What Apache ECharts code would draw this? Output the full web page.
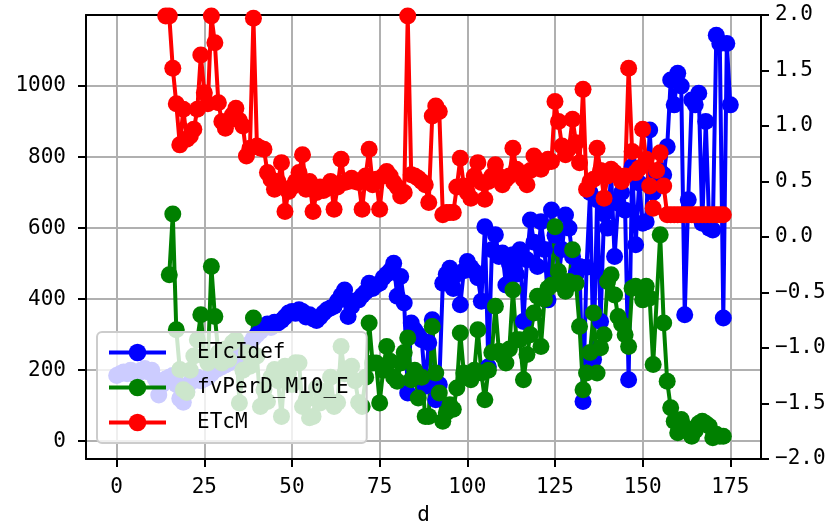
<!DOCTYPE html>
<html>
<head>
<meta charset="utf-8">
<script src="https://cdn.jsdelivr.net/npm/echarts@6/dist/echarts.min.js"></script>
<style>
html,body{margin:0;padding:0;background:#fff;}
#chart{width:838px;height:523px;}
</style>
</head>
<body>
<div id="chart"></div>
<script>
// ---- data ----
const seriesNames = ['ETcIdef', 'fvPerD_M10_E', 'ETcM'];

const daysETcIdef = [
  0,1,2,3,4,5,6,7,8,9,10,11,12,13,14,15,16,17,18,19,
  20,21,22,23,24,25,26,27,28,29,30,31,32,33,34,35,36,37,38,39,
  40,41,42,43,44,45,46,47,48,49,50,51,52,53,54,55,56,57,58,59,
  60,61,62,63,64,65,66,67,68,69,70,71,72,73,74,75,76,77,78,79,
  80,81,82,83,84,85,86,87,88,89,90,91,92,93,94,95,96,97,98,99,
  100,101,102,103,104,105,106,107,108,109,110,111,112,113,114,115,116,117,118,119,
  120,121,122,123,124,125,126,127,128,129,130,131,132,133,134,135,136,137,138,139,
  140,141,142,143,144,145,146,147,148,149,150,151,152,153,154,155,156,157,158,159,
  160,161,162,163,164,165,166,167,168,169,170,171,172,173,174,175
];
const valsETcIdef = [
  185,190,195,190,200,195,190,200,205,195,
  200,175,130,160,175,180,185,160,120,110,
  140,165,175,180,170,175,180,190,200,205,
  210,215,220,225,230,240,250,260,275,290,
  300,310,323,330,320,335,333,340,350,361,
  365,360,370,365,350,356,345,340,350,361,
  370,375,380,395,410,426,351,380,395,398,
  410,420,445,430,440,445,460,470,480,501,
  408,464,389,136,333,313,300,286,155,277,
  342,117,160,445,470,487,430,470,384,480,
  506,490,478,460,394,604,210,539,581,520,
  530,440,500,525,470,539,337,511,623,560,
  492,618,540,398,651,580,464,540,637,600,
  520,470,492,112,490,700,230,680,337,640,
  600,755,520,670,700,650,173,773,553,727,
  614,618,876,700,755,760,750,829,1017,947,
  1036,1000,356,680,961,947,980,614,900,600,
  595,1143,1120,347,1120,947
];

const daysFvPerD = [
  15,16,17,18,19,20,21,22,23,24,25,26,27,28,29,30,31,32,33,34,
  35,36,37,38,39,40,41,42,43,44,45,46,47,48,49,50,51,52,53,54,
  55,56,57,58,59,60,61,62,63,64,65,66,67,68,69,70,71,72,73,74,
  75,76,77,78,79,80,81,82,83,84,85,86,87,88,89,90,91,92,93,94,
  95,96,97,98,99,100,101,102,103,104,105,106,107,108,109,110,111,112,113,114,
  115,116,117,118,119,120,121,122,123,124,125,126,127,128,129,130,131,132,133,134,
  135,136,137,138,139,140,141,142,143,144,145,146,147,148,149,150,151,152,153,
  155,156,157,158,159,160,161,162,163,164,165,166,167,168,169,170,171,172,173
];
const valsFvPerD = [
  469,640,314,202,145,137,200,240,286,356,239,220,492,351,249,220,260,230,277,286,
  108,200,249,211,347,240,98,145,112,180,202,170,70,211,190,160,221,220,98,117,
  66,70,150,108,140,117,180,98,109,267,190,200,211,170,109,98,180,333,220,220,
  108,200,267,225,180,169,220,250,291,173,200,122,180,70,70,323,192,136,56,80,
  103,90,150,305,192,180,173,200,314,192,117,200,250,380,253,240,220,260,426,286,
  286,173,244,300,361,408,267,400,431,440,604,478,440,422,450,539,445,323,145,192,
  250,361,192,263,300,450,469,412,351,330,300,267,431,436,430,398,436,403,216,
  581,333,169,94,56,24,61,40,30,14,30,50,56,50,42,10,20,14,14
];

const daysETcM = [
  14,15,16,17,18,19,20,21,22,23,24,25,26,27,28,29,30,31,32,33,
  34,35,36,37,38,39,40,41,42,43,44,45,46,47,48,49,50,51,52,53,
  54,55,56,57,58,59,60,61,62,63,64,65,66,67,68,69,70,71,72,73,
  74,75,76,77,78,79,80,81,82,83,84,85,86,87,88,89,90,91,92,93,
  94,95,96,97,98,99,100,101,102,103,104,105,106,107,108,109,110,111,112,113,
  114,115,116,117,118,119,120,121,122,123,124,125,126,127,128,129,130,131,132,133,
  134,135,136,137,138,139,140,141,142,143,144,145,146,147,148,149,150,151,152,153,
  154,155,156,157,158,159,160,161,162,163,164,165,166,167,168,169,170,171,172,173
];
const valsETcM = [
  1.99,1.99,1.52,1.20,0.83,1.15,0.88,0.91,0.97,1.15,1.64,1.30,1.20,1.99,1.75,1.21,1.04,0.98,1.05,1.10,
  1.16,1.05,1.00,0.73,0.80,1.97,0.82,0.80,0.79,0.58,0.52,0.43,0.50,0.67,0.23,0.41,0.45,0.50,0.58,0.74,
  0.43,0.50,0.23,0.40,0.45,0.42,0.44,0.50,0.25,0.45,0.70,0.49,0.50,0.53,0.50,0.49,0.25,0.55,0.79,0.47,
  0.52,0.25,0.55,0.59,0.55,0.49,0.45,0.37,0.40,1.99,0.56,0.55,0.53,0.50,0.47,0.31,1.09,1.18,1.13,0.20,
  0.22,0.22,0.22,0.45,0.71,0.46,0.40,0.35,0.55,0.67,0.49,0.34,0.50,0.55,0.65,0.55,0.47,0.52,0.55,0.80,
  0.61,0.58,0.52,0.47,0.60,0.73,0.65,0.61,0.66,0.70,0.68,1.22,1.04,0.82,0.74,0.80,1.06,0.85,0.67,1.33,
  0.43,0.50,0.52,0.80,0.60,0.35,0.55,0.61,0.58,0.55,0.50,0.55,1.52,0.77,0.58,0.62,0.97,0.70,0.46,0.26,
  0.60,0.76,0.46,0.20,0.20,0.20,0.20,0.20,0.20,0.20,0.20,0.20,0.20,0.20,0.20,0.20,0.20,0.20,0.20,0.20
];

const xTicks = [0, 25, 50, 75, 100, 125, 150, 175];
const yLeftTicks = [0, 200, 400, 600, 800, 1000];

// ---- chart ----
const FONT = 'DejaVu Sans Mono';
const pair = (xs, ys) => xs.map((x, i) => [x, ys[i]]);

const chart = echarts.init(document.getElementById('chart'), null, {renderer: 'canvas'});

const lineSeries = (name, xs, ys, color, yAxisIndex) => ({
  name, type: 'line', xAxisIndex: 0, yAxisIndex,
  data: pair(xs, ys),
  symbol: 'circle', symbolSize: 17, showSymbol: true,
  lineStyle: {color, width: 4},
  itemStyle: {color, borderWidth: 0},
  emphasis: {disabled: true},
  animation: false
});

chart.setOption({
  animation: false,
  backgroundColor: '#ffffff',
  grid: {left: 86, right: 77, top: 15, bottom: 64, containLabel: false, outerBoundsMode: 'none'},
  xAxis: [{
    type: 'value', position: 'bottom', min: -8.75, max: 183.75,
    name: 'd', nameLocation: 'middle', nameGap: 46,
    nameTextStyle: {fontFamily: FONT, fontSize: 21, color: '#000', verticalAlign: 'top'},
    axisLine: {show: true, onZero: false, lineStyle: {color: '#000', width: 2}},
    axisTick: {show: true, inside: false, length: 8, customValues: xTicks, lineStyle: {color: '#000', width: 2}},
    axisLabel: {show: true, customValues: xTicks, margin: 18, fontFamily: FONT, fontSize: 21, color: '#000',
      formatter: v => String(v)},
    splitLine: {show: true, lineStyle: {color: '#b0b0b0', width: 2}}
  }, {
    type: 'value', position: 'top', min: -8.75, max: 183.75,
    axisLine: {show: true, onZero: false, lineStyle: {color: '#000', width: 2}},
    axisTick: {show: false}, axisLabel: {show: false}, splitLine: {show: false}
  }],
  yAxis: [{
    type: 'value', position: 'left', min: -50, max: 1200,
    axisLine: {show: true, onZero: false, lineStyle: {color: '#000', width: 2}},
    axisTick: {show: true, inside: false, length: 8, customValues: yLeftTicks, lineStyle: {color: '#000', width: 2}},
    axisLabel: {show: true, customValues: yLeftTicks, margin: 20, fontFamily: FONT, fontSize: 21, color: '#000',
      formatter: v => String(v)},
    splitLine: {show: true, lineStyle: {color: '#b0b0b0', width: 2}}
  }, {
    type: 'value', position: 'right', min: -2, max: 2, interval: 0.5,
    axisLine: {show: true, onZero: false, lineStyle: {color: '#000', width: 2}},
    axisTick: {show: true, inside: false, length: 8, lineStyle: {color: '#000', width: 2}},
    axisLabel: {show: true, margin: 14, fontFamily: FONT, fontSize: 21, color: '#000',
      formatter: v => v.toFixed(1).replace('-', '\u2212')},
    splitLine: {show: false}
  }],
  legend: {
    show: true, orient: 'vertical', left: 97, top: 332,
    data: seriesNames,
    itemWidth: 57, itemHeight: 22, itemGap: 14,
    padding: [10, 18, 10, 10],
    backgroundColor: 'rgba(255,255,255,0.8)',
    borderColor: '#cccccc', borderWidth: 2, borderRadius: 5,
    lineStyle: {width: 4},
    textStyle: {fontFamily: FONT, fontSize: 21, color: '#000', padding: [0, 0, 0, 26]},
    selectedMode: false
  },
  series: [
    lineSeries(seriesNames[0], daysETcIdef, valsETcIdef, '#0000ff', 0),
    lineSeries(seriesNames[1], daysFvPerD, valsFvPerD, '#008000', 0),
    lineSeries(seriesNames[2], daysETcM, valsETcM, '#ff0000', 1)
  ]
});
</script>
</body>
</html>
